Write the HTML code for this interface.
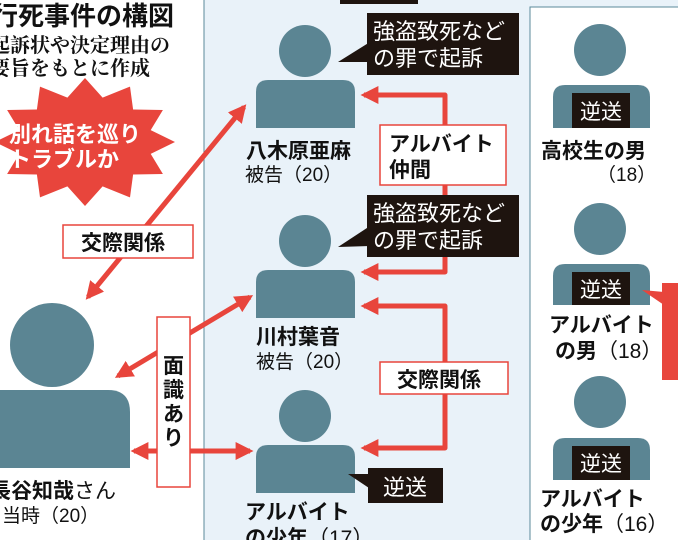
<!DOCTYPE html>
<html><head><meta charset="utf-8"><style>
html,body{margin:0;padding:0;background:#fff;}
svg{display:block;}
text{font-family:"Liberation Sans","Noto Sans CJK JP",sans-serif;}
.b{font-weight:bold;}
</style></head><body>
<svg width="678" height="540" viewBox="0 0 678 540" xmlns="http://www.w3.org/2000/svg">
<defs>
<marker id="ah" viewBox="0 0 10 10" refX="8" refY="5" markerWidth="3.6" markerHeight="3.6" orient="auto-start-reverse"><path d="M0,0 L10,5 L0,10 Z" fill="#e8453c"/></marker>
</defs>
<rect width="678" height="540" fill="#fff"/>
<rect x="204" y="-1" width="480" height="545" fill="#e9f2f9" stroke="#5b8a9a" stroke-width="1"/>
<rect x="530" y="7" width="160" height="540" fill="#fff" stroke="#5b8a9a" stroke-width="1"/>
<rect x="340" y="-4" width="78" height="8" fill="#1e140f"/>

<!-- title -->
<text x="-8" y="25" font-size="26" class="b" fill="#111">行死事件の構図</text>
<text x="-10" y="52" font-size="20" fill="#111" font-weight="bold" style="font-family:'Liberation Serif','Noto Serif CJK SC',serif">起訴状や決定理由の</text>
<text x="-10" y="75" font-size="20" fill="#111" font-weight="bold" style="font-family:'Liberation Serif','Noto Serif CJK SC',serif">要旨をもとに作成</text>

<!-- starburst -->
<polygon fill="#e8453c" points="175,142 150.7,153.9 162.9,174 133.1,174.5 130,197.4 102.6,186.4 85,206 67.4,186.4 40,197.4 36.9,174.5 7.1,174 19.3,153.9 -5,142 19.3,130.1 7.1,110 36.9,109.5 40,86.6 67.4,97.6 85,78 102.6,97.6 130,86.6 133.1,109.5 162.9,110 150.7,130.1"/>
<text x="9" y="142" font-size="22" class="b" fill="#fff">別れ話を巡り</text>
<text x="9" y="167" font-size="22" class="b" fill="#fff">トラブルか</text>

<!-- red connectors -->
<g stroke="#e8453c" stroke-width="5" fill="none" stroke-linejoin="round">
<path d="M364,95 H445 V272 H364" marker-start="url(#ah)" marker-end="url(#ah)"/>
<path d="M364,306 H445 V448 H364" marker-start="url(#ah)" marker-end="url(#ah)"/>
<path d="M88,297 L244,107" marker-start="url(#ah)" marker-end="url(#ah)"/>
<path d="M118,376 L250,297" marker-start="url(#ah)" marker-end="url(#ah)"/>
<path d="M134,451 L250,451" marker-start="url(#ah)" marker-end="url(#ah)"/>
</g>

<!-- persons -->
<g fill="#5b8593">
<circle cx="305" cy="51" r="26"/><path d="M256,128 V92 Q256,80 268,80 H343 Q355,80 355,92 V128 Z"/>
<circle cx="305" cy="241" r="26"/><path d="M256,318 V282 Q256,270 268,270 H343 Q355,270 355,282 V318 Z"/>
<circle cx="305" cy="416" r="26"/><path d="M256,493 V457 Q256,445 268,445 H343 Q355,445 355,457 V493 Z"/>
<circle cx="52" cy="345" r="42"/><path d="M-5,468 V390 H108 Q130,390 130,412 V468 Z"/>
<circle cx="600" cy="50" r="26"/><path d="M553,128 V97 Q553,85 565,85 H638 Q650,85 650,97 V128 Z"/>
<circle cx="600" cy="229" r="26"/><path d="M553,305 V276 Q553,264 565,264 H638 Q650,264 650,276 V305 Z"/>
<circle cx="600" cy="402" r="26"/><path d="M553,480 V450 Q553,438 565,438 H638 Q650,438 650,450 V480 Z"/>
</g>
<g fill="#1e140f">
<rect x="572" y="93" width="58" height="35"/>
<rect x="572" y="272" width="58" height="33"/>
<rect x="572" y="446" width="58" height="34"/>
</g>
<g fill="#fff" font-size="21">
<text x="580" y="119">逆送</text><text x="580" y="297">逆送</text><text x="580" y="471">逆送</text>
</g>

<!-- labels -->
<g fill="#111">
<text x="246" y="158" font-size="21" class="b">八木原亜麻</text>
<text x="245" y="181" font-size="19">被告（20）</text>
<text x="256" y="344" font-size="21" class="b">川村葉音</text>
<text x="256" y="368" font-size="19">被告（20）</text>
<text x="245" y="519" font-size="21" class="b">アルバイト</text>
<text x="245" y="545" font-size="21" class="b">の少年<tspan font-weight="normal">（17）</tspan></text>
<text x="-10" y="498" font-size="21" class="b">長谷知哉<tspan font-weight="normal">さん</tspan></text>
<text x="2" y="522" font-size="19">当時（20）</text>
<text x="541" y="158" font-size="21" class="b">高校生の男</text>
<text x="597" y="181" font-size="19">（18）</text>
<text x="549" y="332" font-size="21" class="b">アルバイト</text>
<text x="555" y="358" font-size="21" class="b">の男<tspan font-weight="normal">（18）</tspan></text>
<text x="540" y="506" font-size="21" class="b">アルバイト</text>
<text x="540" y="531" font-size="21" class="b">の少年<tspan font-weight="normal">（16）</tspan></text>
</g>

<!-- right red callout -->
<rect x="662" y="283" width="20" height="97" fill="#e8453c"/>
<polygon points="642,290 664,292 664,305" fill="#e8453c"/>

<!-- black callouts -->
<g fill="#1e140f">
<rect x="367" y="13" width="152" height="62"/><polygon points="338,62 370,42 370,62"/>
<rect x="367" y="195" width="152" height="62"/><polygon points="338,247 370,226 370,246"/>
<rect x="368" y="468" width="75" height="35"/><polygon points="348,474 372,474 372,490"/>
</g>
<g fill="#fff" font-size="22">
<text x="373" y="39">強盗致死など</text><text x="373" y="66">の罪で起訴</text>
<text x="373" y="221">強盗致死など</text><text x="373" y="248">の罪で起訴</text>
<text x="383" y="495">逆送</text>
</g>

<!-- label boxes -->
<g fill="#fff" stroke="#e8453c" stroke-width="1.5">
<rect x="380" y="125" width="126" height="60"/>
<rect x="380" y="362" width="128" height="32"/>
<rect x="63" y="225" width="130" height="33"/>
<rect x="157" y="317" width="33" height="170"/>
</g>
<g fill="#111" font-size="21" class="b">
<text x="389" y="151">アルバイト</text><text x="389" y="177">仲間</text>
<text x="397" y="387">交際関係</text>
<text x="81" y="250">交際関係</text>
<text x="163" y="373">面</text><text x="163" y="397">識</text><text x="163" y="421">あ</text><text x="163" y="445">り</text>
</g>
</svg>
</body></html>
